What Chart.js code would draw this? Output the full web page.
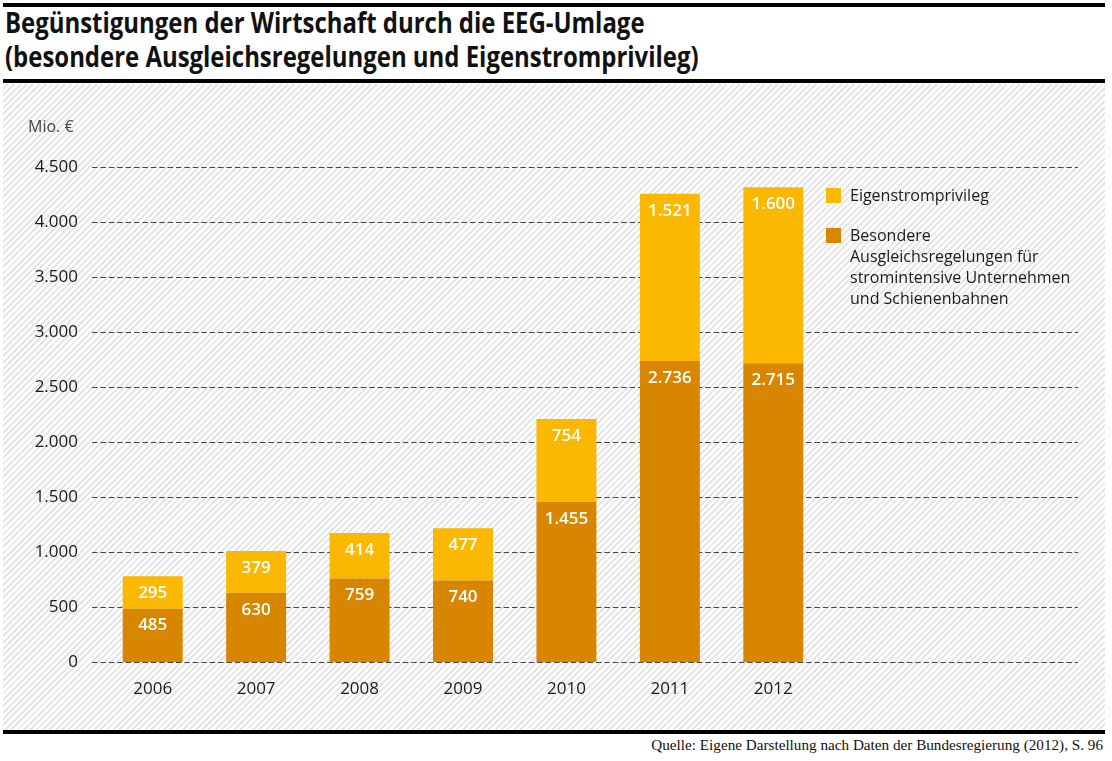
<!DOCTYPE html>
<html lang="de">
<head>
<meta charset="utf-8">
<script src="https://cdn.jsdelivr.net/npm/chart.js@4.4.1/dist/chart.umd.min.js"></script>
<style>
  body { margin: 0; background: #fff; }
  #wrap { position: relative; width: 1112px; height: 761px; overflow: hidden; }
  .bar { position: absolute; left: 3px; width: 1102px; background: #000; }
  #title {
    position: absolute; left: 5px; top: 5px; white-space: nowrap;
    font-family: 'Open Sans', sans-serif;
    font-weight: bold; font-size: 28px; line-height: 34px; color: #111;
    transform: scaleX(0.855); transform-origin: 0 0;
  }
  #hatch {
    position: absolute; left: 3px; top: 84px; width: 1102px; height: 646px;
    background: repeating-linear-gradient(135deg, #ffffff 0px, #ffffff 2.5px, #e6e6e6 2.5px, #e6e6e6 4.5px);
  }
  #source {
    position: absolute; right: 9px; top: 736px;
    font-family: 'Liberation Serif', serif; font-size: 15.2px; color: #111;
  }
  canvas { position: absolute; left: 0; top: 0; }
</style>
</head>
<body>
<div id="wrap">
  <div class="bar" style="top:3px;height:4px"></div>
  <div id="title">Begünstigungen der Wirtschaft durch die EEG-Umlage<br>(besondere Ausgleichsregelungen und Eigenstromprivileg)</div>
  <div class="bar" style="top:79px;height:4px"></div>
  <div id="hatch"></div>
  <div class="bar" style="top:730px;height:4px"></div>
  <div id="source">Quelle: Eigene Darstellung nach Daten der Bundesregierung (2012), S. 96</div>
  <canvas id="chart" width="1112" height="761"></canvas>
</div>
<script>
// Daten
const years = ['2006', '2007', '2008', '2009', '2010', '2011', '2012'];
const ausgleich = [485, 630, 759, 740, 1455, 2736, 2715];
const eigenstrom = [295, 379, 414, 477, 754, 1521, 1600];
const yTicks = [0, 500, 1000, 1500, 2000, 2500, 3000, 3500, 4000, 4500];

const colDark = '#d88600';
const colLight = '#fbb800';
const bodyFont = "'Open Sans', sans-serif";

// Tausenderpunkt
function fmt(v) {
  return String(v).replace(/\B(?=(\d{3})+(?!\d))/g, '.');
}

const extras = {
  id: 'extras',
  // gestrichelte Hilfslinien hinter den Balken (Legendenbereich ausgespart)
  beforeDatasetsDraw(chart) {
    const ctx = chart.ctx;
    const y = chart.scales.y;
    ctx.save();
    ctx.beginPath();
    ctx.rect(0, 0, chart.width, chart.height);
    ctx.rect(805, 178, 300, 140);
    ctx.clip('evenodd');
    ctx.strokeStyle = '#444';
    ctx.lineWidth = 1;
    ctx.setLineDash([5.5, 2.9]);
    yTicks.forEach(function (t) {
      const py = Math.round(y.getPixelForValue(t)) + 0.5;
      ctx.beginPath();
      ctx.moveTo(92, py);
      ctx.lineTo(1078, py);
      ctx.stroke();
    });
    ctx.restore();
  },
  afterDatasetsDraw(chart) {
    const ctx = chart.ctx;
    ctx.save();
    // Werte in den Balken
    ctx.fillStyle = '#fff';
    ctx.font = '600 17px ' + bodyFont;
    ctx.textAlign = 'center';
    ctx.textBaseline = 'middle';
    chart.data.datasets.forEach(function (dataset, i) {
      const meta = chart.getDatasetMeta(i);
      meta.data.forEach(function (el, index) {
        ctx.fillText(fmt(dataset.data[index]), el.x, el.y + 17);
      });
    });
    // Einheit
    ctx.fillStyle = '#444';
    ctx.font = '16px ' + bodyFont;
    ctx.textAlign = 'left';
    ctx.fillText('Mio. €', 28, 127);
    // Legende
    const items = [
      { color: colLight, lines: ['Eigenstromprivileg'], y: 196 },
      { color: colDark, lines: ['Besondere', 'Ausgleichsregelungen für', 'stromintensive Unternehmen', 'und Schienenbahnen'], y: 236 },
    ];
    ctx.font = '16px ' + bodyFont;
    items.forEach(function (it) {
      ctx.fillStyle = it.color;
      ctx.fillRect(826, it.y - 8, 15, 15);
      ctx.fillStyle = '#1a1a1a';
      it.lines.forEach(function (l, k) {
        ctx.fillText(l, 850, it.y + k * 21.3);
      });
    });
    ctx.restore();
  },
};

new Chart(document.getElementById('chart'), {
  type: 'bar',
  data: {
    labels: years,
    datasets: [
      { label: 'Besondere Ausgleichsregelungen', data: ausgleich, backgroundColor: colDark },
      { label: 'Eigenstromprivileg', data: eigenstrom, backgroundColor: colLight },
    ],
  },
  options: {
    responsive: false,
    animation: false,
    layout: { padding: { top: 167, left: 0, right: 287, bottom: 0 } },
    datasets: { bar: { barPercentage: 0.58, categoryPercentage: 1 } },
    plugins: { legend: { display: false }, tooltip: { enabled: false } },
    scales: {
      x: {
        stacked: true,
        grid: { display: false, drawTicks: false },
        border: { display: false },
        ticks: { padding: 17, color: '#1a1a1a', font: { family: bodyFont, size: 17 } },
        afterFit: function (scale) { scale.height = 99; },
      },
      y: {
        stacked: true,
        min: 0,
        max: 4500,
        grid: { display: false, drawTicks: false },
        border: { display: false },
        afterBuildTicks: function (scale) { scale.ticks = yTicks.map(function (v) { return { value: v }; }); },
        ticks: {
          padding: 23,
          color: '#1a1a1a',
          font: { family: bodyFont, size: 17 },
          callback: function (v) { return fmt(v); },
        },
        afterFit: function (scale) { scale.width = 101; },
      },
    },
  },
  plugins: [extras],
});
</script>
</body>
</html>
